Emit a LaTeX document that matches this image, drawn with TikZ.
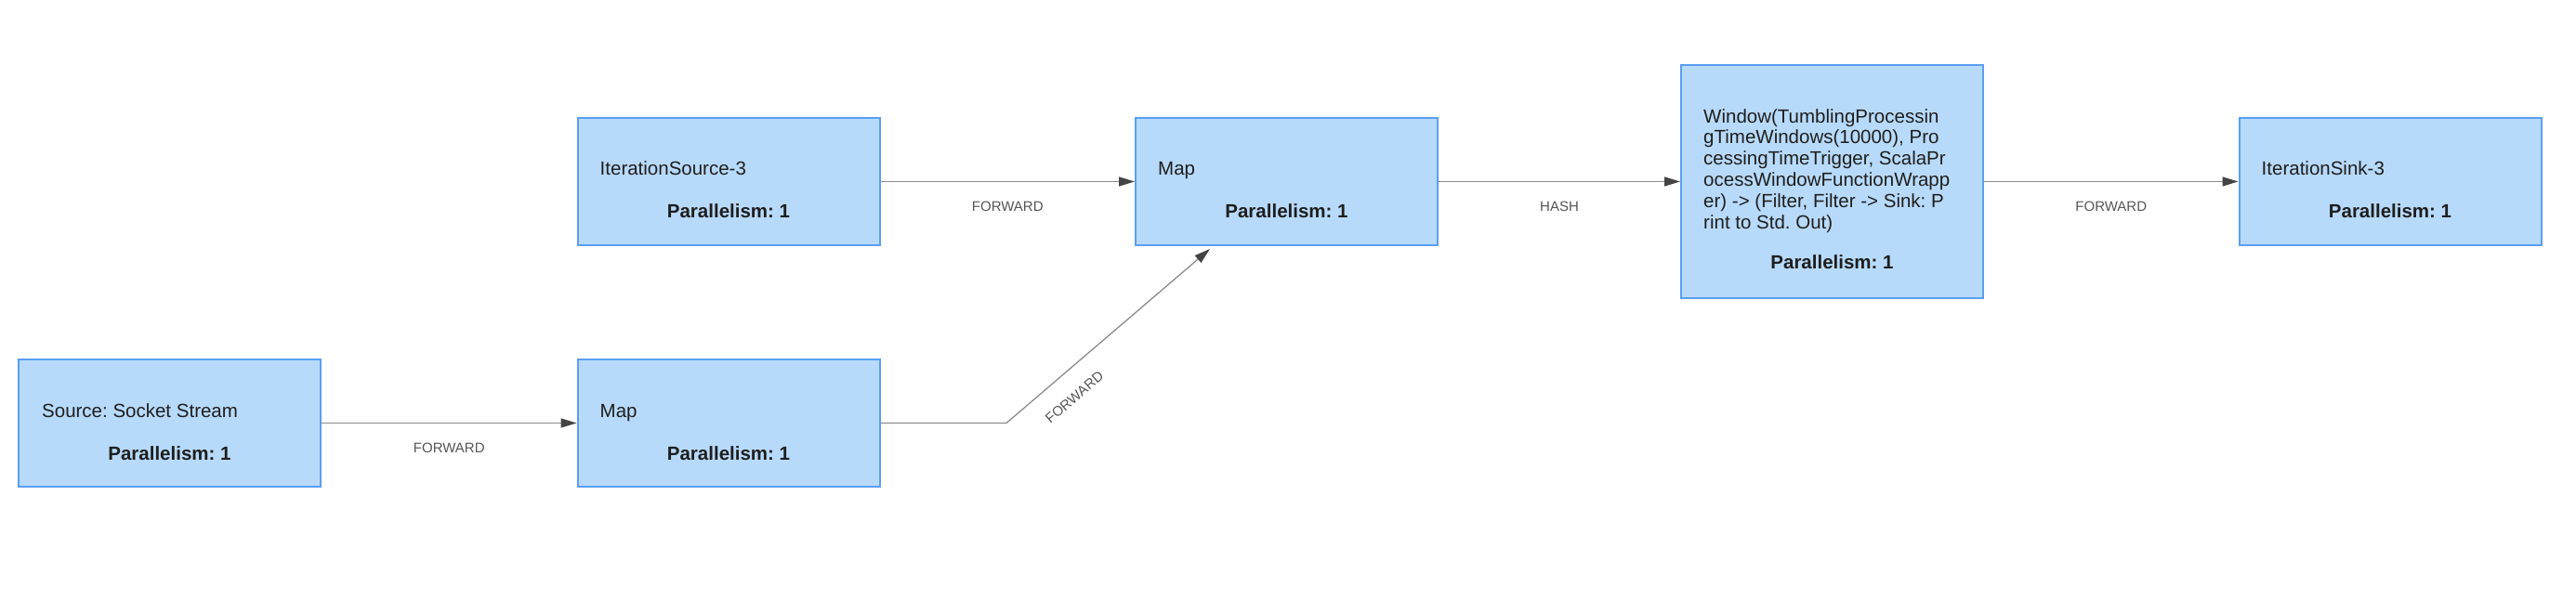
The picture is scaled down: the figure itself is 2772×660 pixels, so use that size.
\documentclass[tikz,border=0pt]{standalone}
\usepackage{fontspec}
\setmainfont{Liberation Sans}
\usetikzlibrary{arrows.meta,calc}
\definecolor{boxfill}{HTML}{B8DAFA}
\definecolor{boxline}{HTML}{5A9EF2}
\definecolor{edgegray}{HTML}{8C8C8C}
\definecolor{tipgray}{HTML}{444444}
\definecolor{lblgray}{HTML}{555555}
\definecolor{txtdark}{HTML}{1E1E1E}
\frenchspacing
\tikzset{
  opbox/.style={draw=boxline,line width=2pt,fill=boxfill,minimum width=325pt,minimum height=137pt,inner sep=0pt},
  optitle/.style={anchor=base west,inner sep=0pt,text=txtdark,font=\fontsize{20.5}{22.8}\selectfont},
  oppar/.style={anchor=base,inner sep=0pt,text=txtdark,font=\fontsize{20.5}{22.8}\selectfont\bfseries},
  flow/.style={draw=edgegray,line width=1.3pt,-{Triangle[length=17pt,width=10pt,color=tipgray]}},
  flowlbl/.style={below=20.5pt,inner sep=0pt,text=lblgray,font=\fontsize{15}{18}\selectfont}
}
\begin{document}
\begin{tikzpicture}[x=1pt,y=-1pt]
\useasboundingbox (0,0) rectangle (2772,660);
\node[opbox] (src) at (182.5,455.5) {};
\node[opbox] (itsrc) at (784,195.5) {};
\node[opbox] (mapa) at (784,455.5) {};
\node[opbox] (mapb) at (1384.5,195.5) {};
\node[opbox,minimum height=251pt] (win) at (1971.5,195.5) {};
\node[opbox] (itsink) at (2572,195.5) {};
\node[optitle] (srct) at ($(src.north west)+(26,63)$) {Source: Socket Stream};
\node[optitle] (itsrct) at ($(itsrc.north west)+(25,63)$) {IterationSource-3};
\node[optitle] (mapat) at ($(mapa.north west)+(25,63)$) {Map};
\node[optitle] (mapbt) at ($(mapb.north west)+(25,63)$) {Map};
\node[optitle,align=left,anchor=north west] (wint) at ($(win.north west)+(25,48)$) {Window(TumblingProcessin\\gTimeWindows(10000), Pro\\cessingTimeTrigger, ScalaPr\\ocessWindowFunctionWrapp\\er) -> (Filter, Filter -> Sink: P\\rint to Std. Out)};
\node[optitle] (itsinkt) at ($(itsink.north west)+(25,63)$) {IterationSink-3};
\node[oppar] (srcp) at ($(src.south)+(0,-30)$) {Parallelism: 1};
\node[oppar] (itsrcp) at ($(itsrc.south)+(0,-30)$) {Parallelism: 1};
\node[oppar] (mapap) at ($(mapa.south)+(0,-30)$) {Parallelism: 1};
\node[oppar] (mapbp) at ($(mapb.south)+(0,-30)$) {Parallelism: 1};
\node[oppar] (winp) at ($(win.south)+(0,-32)$) {Parallelism: 1};
\node[oppar] (itsinkp) at ($(itsink.south)+(0,-30)$) {Parallelism: 1};
\coordinate (bend) at (1083,455.5);
\coordinate (tgt) at ($(mapb.south west)+(81,3)$);
\draw[flow] (src) -- (mapa) node[midway,flowlbl] (l1) {FORWARD};
\draw[flow] (itsrc) -- (mapb) node[midway,flowlbl] (l2) {FORWARD};
\draw[flow] (mapa.east) -- (bend) -- (tgt) node[pos=0.255,sloped,flowlbl] (l3) {FORWARD};
\draw[flow] (mapb) -- (win) node[midway,flowlbl] (l4) {HASH};
\draw[flow] (win) -- (itsink) node[midway,flowlbl] (l5) {FORWARD};
\end{tikzpicture}
\end{document}
